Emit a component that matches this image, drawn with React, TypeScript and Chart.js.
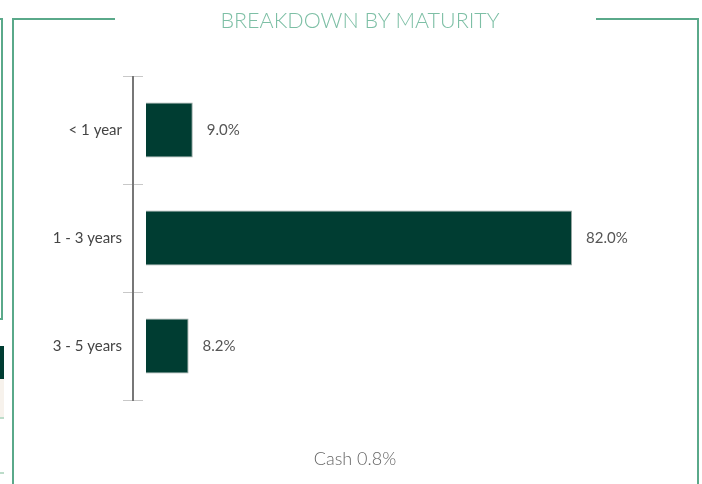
import React, { useEffect, useRef } from "react";
import { Chart, registerables } from "chart.js";

Chart.register(...registerables);

const categories = ["< 1 year", "1 - 3 years", "3 - 5 years"];
const values = [9.0, 82.0, 8.2];
const valueLabels = ["9.0%", "82.0%", "8.2%"];
const titleText = "BREAKDOWN BY MATURITY";
const footText = "Cash 0.8%";

const FRAME = "#5aa98a";
const BAR = "#003d32";

const tickPlugin = {
  id: "bandTicks",
  afterDraw(chart: any) {
    const ctx = chart.ctx;
    const y = chart.scales.y;
    const x0 = chart.chartArea.left;
    ctx.save();
    ctx.strokeStyle = "#c8c8c8";
    ctx.lineWidth = 1;
    for (let i = 0; i <= categories.length; i++) {
      const py = Math.round(y.getPixelForValue(i - 0.5)) + 0.5;
      ctx.beginPath();
      ctx.moveTo(x0 - 10, py);
      ctx.lineTo(x0 + 10, py);
      ctx.stroke();
    }
    // axis line
    ctx.strokeStyle = "#777777";
    ctx.lineWidth = 2;
    ctx.beginPath();
    ctx.moveTo(x0, y.getPixelForValue(-0.5));
    ctx.lineTo(x0, y.getPixelForValue(categories.length - 0.5) + 1);
    ctx.stroke();
    // value labels
    const meta = chart.getDatasetMeta(0);
    ctx.fillStyle = "#555555";
    ctx.font = "15px Lato";
    ctx.textAlign = "left";
    ctx.textBaseline = "middle";
    meta.data.forEach((bar: any, i: number) => {
      ctx.fillText(valueLabels[i], bar.x + 14, bar.y);
    });
    ctx.restore();
  },
};

export default function App() {
  const ref = useRef<HTMLCanvasElement>(null);
  useEffect(() => {
    document.body.style.margin = "0";
    const chart = new Chart(ref.current!, {
      type: "bar",
      data: {
        labels: categories,
        datasets: [
          {
            data: values,
            backgroundColor: BAR,
            borderColor: "#9aa8a4",
            borderWidth: 1,
            barPercentage: 0.51,
            categoryPercentage: 1,
          },
        ],
      },
      options: {
        indexAxis: "y",
        animation: false,
        responsive: false,
        layout: { padding: { left: 0, top: 76, right: 39, bottom: 84 } },
        plugins: { legend: { display: false }, tooltip: { enabled: false } },
        scales: {
          x: { display: false, min: -2.5, max: 99.5 },
          y: {
            afterFit(scale: any) {
              scale.width = 133;
            },
            border: { display: false },
            grid: { display: false },
            ticks: {
              color: "#444444",
              font: { family: "Lato", size: 15 },
              padding: 3,
            },
          },
        },
      },
      plugins: [tickPlugin],
    });
    return () => chart.destroy();
  }, []);

  const line = (s: React.CSSProperties): React.CSSProperties => ({
    position: "absolute",
    background: FRAME,
    ...s,
  });

  return (
    <div style={{ position: "relative", width: 702, height: 484, overflow: "hidden", background: "#fff" }}>
      {/* left neighbour artifacts */}
      <div style={line({ left: 0, top: 18, width: 3, height: 2 })} />
      <div style={line({ left: 1, top: 18, width: 2, height: 302 })} />
      <div style={line({ left: 0, top: 318, width: 3, height: 2 })} />
      <div style={{ position: "absolute", left: 0, top: 346, width: 4, height: 33, background: BAR }} />
      <div style={{ position: "absolute", left: 0, top: 379, width: 4, height: 38, background: "#f7f2ec" }} />
      <div style={{ position: "absolute", left: 0, top: 417, width: 4, height: 2, background: "#bcdcc9" }} />
      <div style={{ position: "absolute", left: 0, top: 472, width: 4, height: 2, background: "#bcdcc9" }} />
      {/* frame */}
      <div style={line({ left: 12, top: 18, width: 103, height: 2 })} />
      <div style={line({ left: 12, top: 18, width: 2, height: 470 })} />
      <div style={line({ left: 596, top: 18, width: 103, height: 2 })} />
      <div style={line({ left: 697, top: 18, width: 2, height: 470 })} />
      <canvas ref={ref} width={702} height={484} style={{ position: "absolute", left: 0, top: 0 }} />
      <div
        style={{
          position: "absolute",
          left: 0,
          width: 720,
          top: 7,
          textAlign: "center",
          fontFamily: "Lato",
          fontWeight: 300,
          fontSize: 21.5,
          lineHeight: "26px",
          color: "#7dbfa5",
          letterSpacing: 0,
        }}
      >
        {titleText}
      </div>
      <div
        style={{
          position: "absolute",
          left: 0,
          width: 710,
          top: 446,
          textAlign: "center",
          fontFamily: "Lato",
          fontWeight: 300,
          fontSize: 18,
          lineHeight: "24px",
          color: "#666666",
        }}
      >
        {footText}
      </div>
    </div>
  );
}
